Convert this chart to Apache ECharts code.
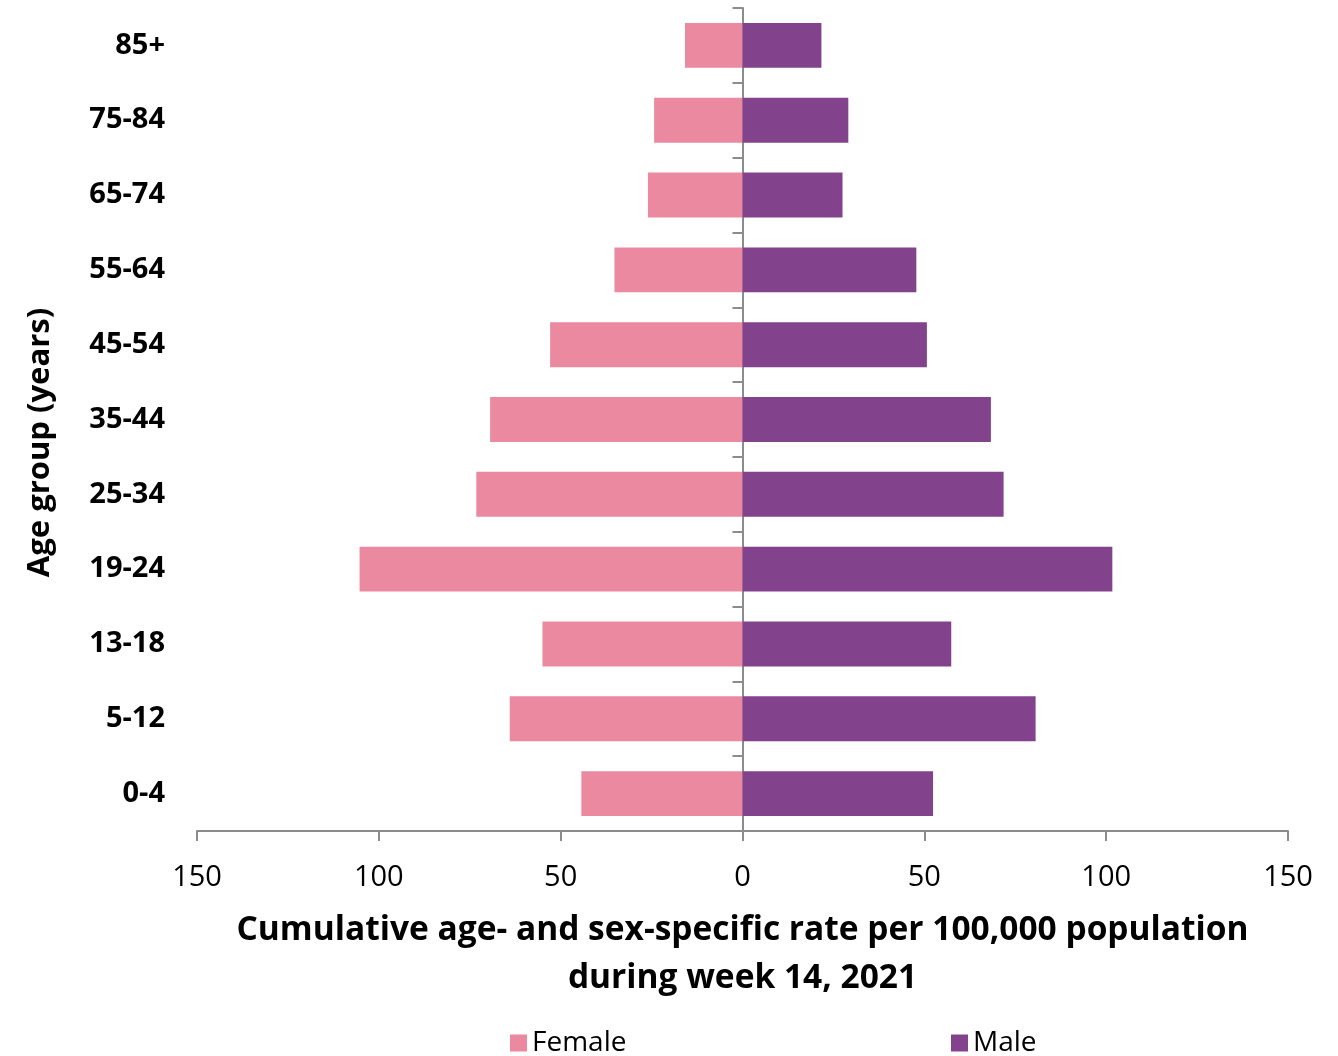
<!DOCTYPE html>
<html>
<head>
<meta charset="utf-8">
<script src="https://cdn.jsdelivr.net/npm/echarts@6/dist/echarts.min.js"></script>
<style>
html,body{margin:0;padding:0;background:#fff;}
#chart{width:1338px;height:1056px;}
</style>
</head>
<body>
<div id="chart"></div>
<script>
const categories = ['0-4','5-12','13-18','19-24','25-34','35-44','45-54','55-64','65-74','75-84','85+'];
const femaleValues = [44.3, 64.0, 55.0, 105.3, 73.2, 69.4, 52.9, 35.2, 26.0, 24.3, 15.8];
const maleValues = [52.4, 80.6, 57.4, 101.7, 71.8, 68.3, 50.7, 47.8, 27.5, 29.1, 21.7];
const xTicks = [-150, -100, -50, 0, 50, 100, 150];

const FONT = 'Open Sans';
const AXIS = '#8c8c8c';
const chart = echarts.init(document.getElementById('chart'));
chart.setOption({
  animation: false,
  backgroundColor: '#ffffff',
  textStyle: {fontFamily: FONT, color: '#000'},
  grid: {left: 197, right: 50, top: 8, bottom: 225, containLabel: false},
  legend: [
    {data: ['Female'], left: 505, top: 1024, itemWidth: 17, itemHeight: 17, itemGap: 8,
     textStyle: {fontFamily: FONT, fontSize: 28, color: '#000'}, icon: 'rect'},
    {data: ['Male'], left: 946, top: 1024, itemWidth: 17, itemHeight: 17, itemGap: 8,
     textStyle: {fontFamily: FONT, fontSize: 28, color: '#000'}, icon: 'rect'}
  ],
  xAxis: {
    type: 'value', min: xTicks[0], max: xTicks[xTicks.length - 1], interval: 50,
    axisLine: {show: true, onZero: false, lineStyle: {color: AXIS, width: 2}},
    axisTick: {show: true, length: 10, lineStyle: {color: AXIS, width: 2}},
    splitLine: {show: false},
    axisLabel: {margin: 32, fontSize: 29, fontFamily: FONT, color: '#000', formatter: v => Math.abs(v)},
    name: 'Cumulative age- and sex-specific rate per 100,000 population\nduring week 14, 2021',
    nameLocation: 'middle', nameGap: 75,
    nameTextStyle: {fontSize: 33.5, fontWeight: 'bold', fontFamily: FONT, color: '#000', lineHeight: 48}
  },
  yAxis: [
    {
      type: 'category', data: categories,
      axisLine: {show: false, onZero: false}, axisTick: {show: false},
      axisLabel: {margin: 32, fontSize: 29, fontWeight: 'bold', fontFamily: FONT, color: '#000', padding: [3, 0, 0, 0]},
      name: 'Age group (years)', nameLocation: 'middle', nameGap: 141, nameRotate: 90,
      nameTextStyle: {fontSize: 31, fontWeight: 'bold', fontFamily: FONT, color: '#000', padding: [0, 46, 0, 0]}
    },
    {
      type: 'category', data: categories, position: 'left',
      axisLine: {show: true, onZero: true, lineStyle: {color: AXIS, width: 2}},
      axisTick: {show: true, length: 10, inside: false, lineStyle: {color: AXIS, width: 2}},
      axisLabel: {show: false}
    }
  ],
  series: [
    {name: 'Female', type: 'bar', yAxisIndex: 0, data: femaleValues.map(v => -v),
     barCategoryGap: '40%', barGap: '-100%', itemStyle: {color: '#EA89A0'}, z: 1},
    {name: 'Male', type: 'bar', yAxisIndex: 0, data: maleValues,
     barCategoryGap: '40%', barGap: '-100%', itemStyle: {color: '#83428C'}, z: 1}
  ]
});
</script>
</body>
</html>
